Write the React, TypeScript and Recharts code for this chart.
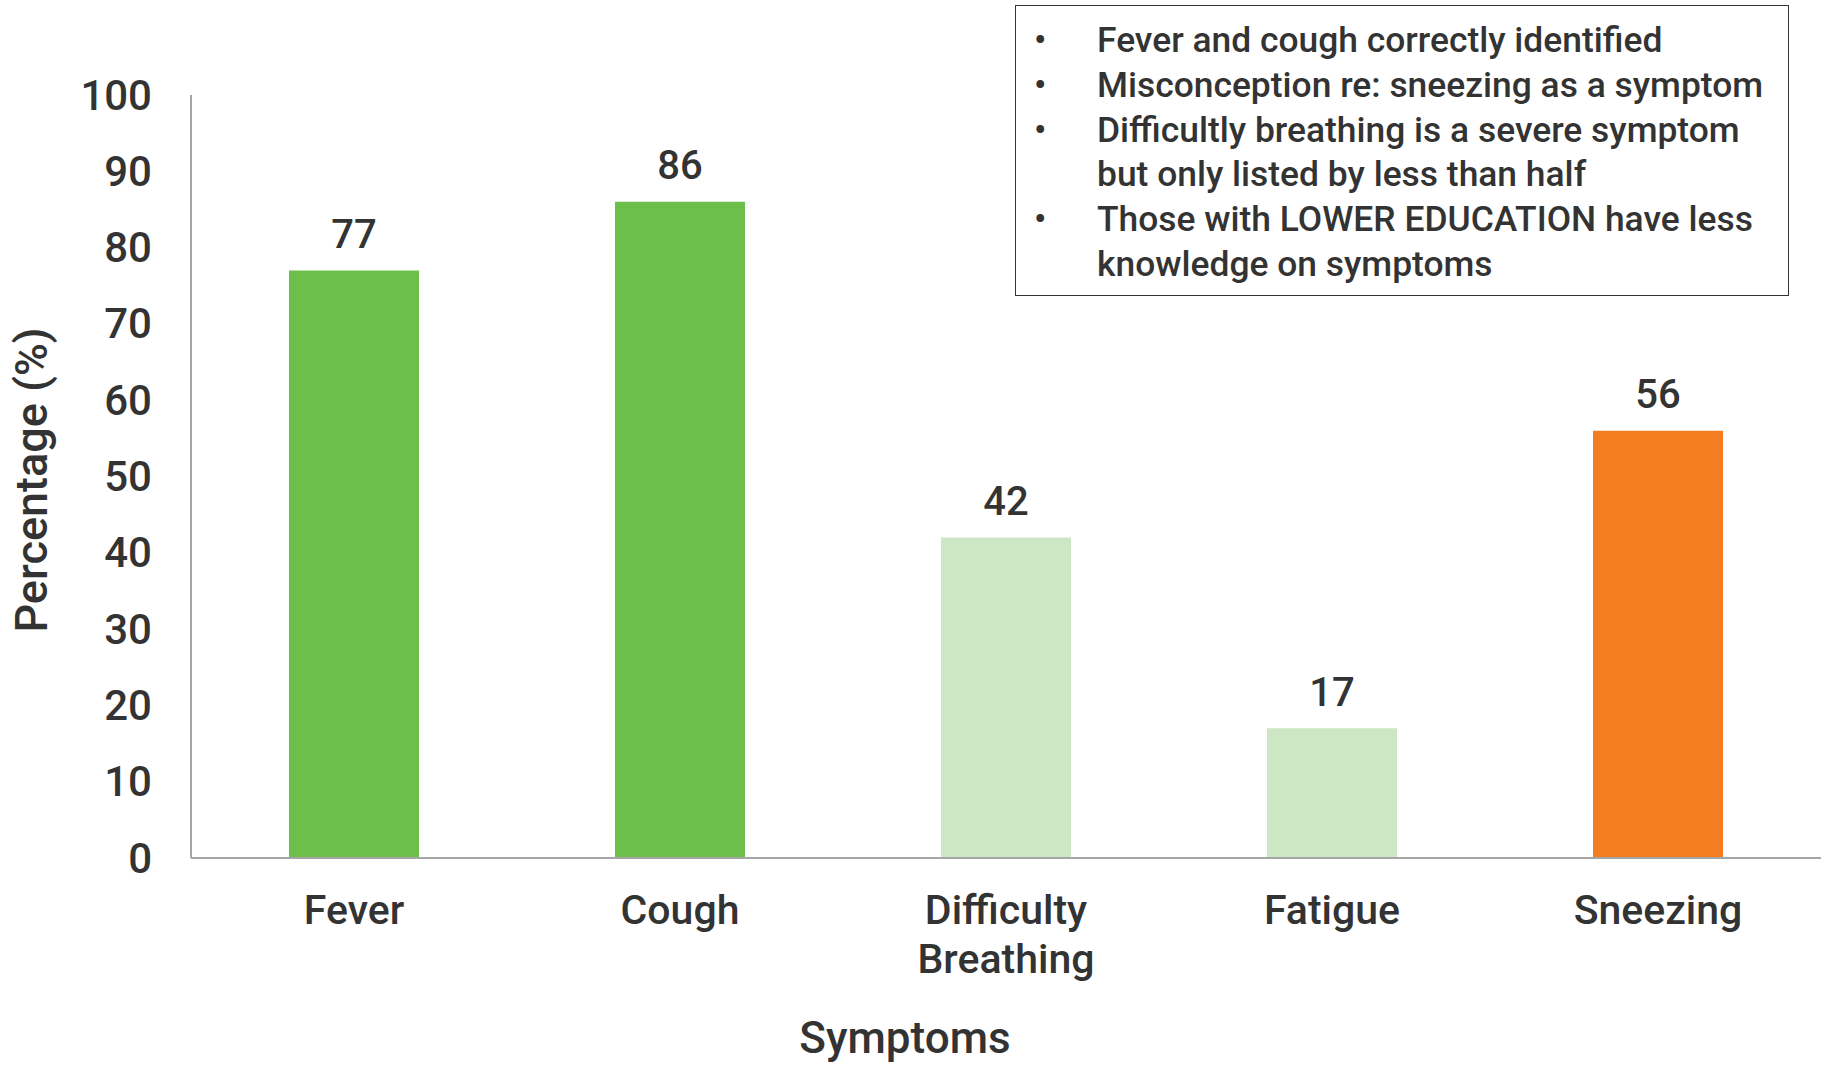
import React from "react";
import { BarChart, Bar, XAxis, YAxis, Cell, LabelList } from "recharts";

const categories = ["Fever", "Cough", "Difficulty Breathing", "Fatigue", "Sneezing"];
const values = [77, 86, 42, 17, 56];
const yTicks = [0, 10, 20, 30, 40, 50, 60, 70, 80, 90, 100];
const barColors = ["#6DBF4B", "#6DBF4B", "#CDE6C4", "#CDE6C4", "#F47D22"];
const notes = [
  ["Fever and cough correctly identified"],
  ["Misconception re: sneezing as a symptom"],
  ["Difficultly breathing is a severe symptom", "but only listed by less than half"],
  ["Those with LOWER EDUCATION have less", "knowledge on symptoms"],
];

const data = categories.map((c, i) => ({ name: c, value: values[i] }));

const FONT = "Roboto, 'Liberation Sans', Arial, sans-serif";
const TEXT = "#333333";

const XTick = (props: any) => {
  const { x, payload } = props;
  const words: string[] = String(payload.value).split(" ");
  return (
    <g>
      {words.map((w, i) => (
        <text
          key={i}
          x={x}
          y={910 + i * 49}
          textAnchor="middle"
          dominantBaseline="central"
          fontFamily={FONT}
          fontWeight={500}
          fontSize={41}
          fill={TEXT}
        >
          {w}
        </text>
      ))}
    </g>
  );
};

const YTick = (props: any) => {
  const { y, payload } = props;
  return (
    <text
      x={152}
      y={y}
      textAnchor="end"
      dominantBaseline="central"
      fontFamily={FONT}
      fontWeight={500}
      fontSize={42}
      fill={TEXT}
    >
      {payload.value}
    </text>
  );
};

const ValueLabel = (props: any) => {
  const { x, y, width, value } = props;
  return (
    <text
      x={x + width / 2}
      y={y - 36}
      textAnchor="middle"
      dominantBaseline="central"
      fontFamily={FONT}
      fontWeight={500}
      fontSize={40}
      fill={TEXT}
    >
      {value}
    </text>
  );
};

export default function App() {
  const lines: { text: string; bullet: boolean }[] = [];
  notes.forEach((n) => n.forEach((t, j) => lines.push({ text: t, bullet: j === 0 })));
  return (
    <div style={{ position: "absolute", left: 0, top: 0, width: 1828, height: 1069, background: "#fff" }}>
      <BarChart
        width={1828}
        height={1069}
        data={data}
        margin={{ top: 95, right: 7, bottom: 181, left: 0 }}
      >
        <XAxis
          dataKey="name"
          interval={0}
          tickLine={false}
          axisLine={{ stroke: "#A6A6A6", strokeWidth: 2 }}
          tick={<XTick />}
        />
        <YAxis
          width={191}
          domain={[0, 100]}
          ticks={yTicks}
          interval={0}
          tickLine={false}
          axisLine={{ stroke: "#A6A6A6", strokeWidth: 2 }}
          tick={<YTick />}
        />
        <Bar dataKey="value" barSize={130} isAnimationActive={false}>
          {data.map((d, i) => (
            <Cell key={d.name} fill={barColors[i]} />
          ))}
          <LabelList dataKey="value" content={<ValueLabel />} />
        </Bar>
        <text
          x={31}
          y={480}
          transform="rotate(-90 31 480)"
          textAnchor="middle"
          dominantBaseline="central"
          fontFamily={FONT}
          fontWeight={500}
          fontSize={45}
          fill={TEXT}
        >
          Percentage (%)
        </text>
        <text
          x={905}
          y={1038}
          textAnchor="middle"
          dominantBaseline="central"
          fontFamily={FONT}
          fontWeight={500}
          fontSize={44}
          fill={TEXT}
        >
          Symptoms
        </text>
      </BarChart>
      <div
        style={{
          position: "absolute",
          left: 1015,
          top: 5,
          width: 774,
          height: 291,
          border: "1.5px solid #333",
          boxSizing: "border-box",
          background: "#fff",
          fontFamily: FONT,
          fontWeight: 500,
          fontSize: 35.4,
          color: TEXT,
        }}
      >
        {lines.map((l, i) => (
          <div
            key={i}
            style={{
              position: "absolute",
              left: 0,
              top: 12 + i * 44.8,
              height: 44,
              lineHeight: "44px",
              whiteSpace: "nowrap",
            }}
          >
            {l.bullet && <span style={{ position: "absolute", left: 18, top: 0 }}>•</span>}
            <span style={{ position: "absolute", left: 81, top: 0 }}>{l.text}</span>
          </div>
        ))}
      </div>
    </div>
  );
}
